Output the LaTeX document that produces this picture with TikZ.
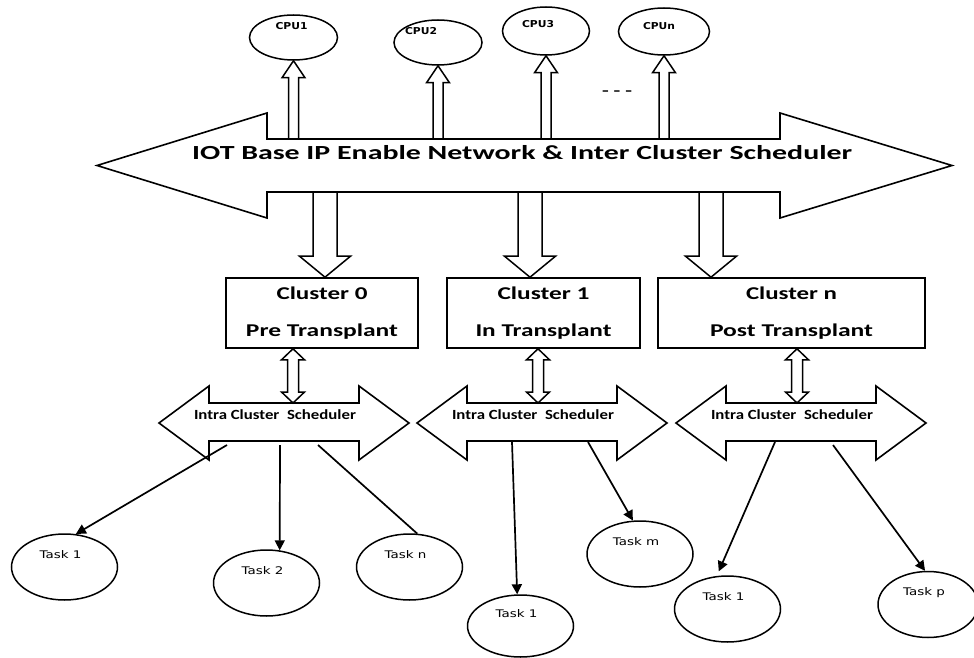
\documentclass[tikz,border=0pt]{standalone}
\usepackage{fontspec}
\usepackage{graphicx}
\usetikzlibrary{calc,shapes.geometric,arrows.meta}
\newfontfamily\carlito{Carlito}
\newfontfamily\dejavu{DejaVu Sans}

% stretch a text to a given width, keeping its height
\newcommand{\fitw}[2]{\resizebox{#1}{\height}{#2}}
% widen a text horizontally by a factor
\newcommand{\wide}[2]{\scalebox{#1}[1]{#2}}

% hollow block arrow from #1 to #2: shaft half-width #3, head half-width #4, head length #5
\newcommand{\blockarrow}[5]{%
  \coordinate (ba-h) at ($(#2)!#5!(#1)$);
  \draw[blockline] ($(#1)!#3!90:(#2)$) -- ($(ba-h)!#3!90:(#2)$) -- ($(ba-h)!#4!90:(#2)$) -- (#2)
    -- ($(ba-h)!#4!-90:(#2)$) -- ($(ba-h)!#3!-90:(#2)$) -- ($(#1)!#3!-90:(#2)$);}

% hollow two-headed block arrow between #1 and #2
\newcommand{\blockdarrow}[5]{%
  \coordinate (ba-a) at ($(#1)!#5!(#2)$);
  \coordinate (ba-b) at ($(#2)!#5!(#1)$);
  \draw[blockline] (#1) -- ($(ba-a)!#4!90:(#2)$) -- ($(ba-a)!#3!90:(#2)$) -- ($(ba-b)!#3!90:(#2)$)
    -- ($(ba-b)!#4!90:(#2)$) -- (#2) -- ($(ba-b)!#4!-90:(#2)$) -- ($(ba-b)!#3!-90:(#2)$)
    -- ($(ba-a)!#3!-90:(#2)$) -- ($(ba-a)!#4!-90:(#2)$) -- cycle;}

% intra cluster scheduler arrow: #1 name, #2 x of the left tip
\newcommand{\intraarrow}[2]{%
  \draw[outline] (#2,423) -- ++(50,-37) -- ++(0,17) -- ++(150,0) -- ++(0,-17) -- ++(50,37)
    -- ++(-50,37) -- ++(0,-19) -- ++(-150,0) -- ++(0,19) -- cycle;
  \coordinate (#1) at (#2+125,423);
  \node[intratext] (#1-text) at (#2+116,419.5) {\fitw{162pt}{Intra Cluster \ Scheduler}};}

\begin{document}
\begin{tikzpicture}[x=1pt,y=-1pt,
  outline/.style={draw=black, line width=1.6pt, line join=miter},
  blockline/.style={draw=black, line width=1.5pt, line join=miter},
  cpu/.style={ellipse, draw=black, line width=1.5pt, inner sep=0pt},
  cputext/.style={font=\dejavu\bfseries\fontsize{9.5}{11}\selectfont, inner sep=0pt},
  cbox/.style={rectangle, draw=black, line width=1.6pt, inner sep=0pt, align=center,
    font=\carlito\bfseries\fontsize{18}{37}\selectfont},
  intratext/.style={anchor=base, inner sep=0pt, font=\carlito\bfseries\fontsize{14}{16}\selectfont},
  task/.style={ellipse, draw=black, line width=1.5pt, minimum width=106pt, minimum height=66pt, inner sep=0pt},
  tasktext/.style={font=\dejavu\fontsize{10.5}{12}\selectfont, inner sep=0pt, xshift=-4pt, yshift=12pt},
  tline/.style={draw=black, line width=1.7pt},
  tarrow/.style={tline, -{Triangle[length=10pt,width=10pt]}}
]
\fill[white] (0,0) rectangle (974,658);
\useasboundingbox (0,0) rectangle (974,658);

% network backbone and inter cluster scheduler
\draw[outline] (97,165.5) -- (267,113) -- (267,139) -- (780,139) -- (780,113) -- (952,165.5)
  -- (780,218) -- (780,192) -- (267,192) -- (267,218) -- cycle;
\node[anchor=base west, inner sep=0pt, font=\carlito\bfseries\fontsize{20}{24}\selectfont] (net)
  at (192,159.3) {\fitw{660pt}{IOT Base IP Enable Network \& Inter Cluster Scheduler}};
\coordinate (nettop) at (0,139);
\coordinate (netbot) at (0,191);

% processors
\node[cpu, minimum width=88pt, minimum height=45pt,
  label={[cputext, xshift=-2pt, yshift=11pt]center:\fitw{32pt}{CPU1}}] (cpu1) at (293.5,37.5) {};
\node[cpu, minimum width=88pt, minimum height=45pt,
  label={[cputext, xshift=-17pt, yshift=11pt]center:\fitw{32pt}{CPU2}}] (cpu2) at (438,42.5) {};
\node[cpu, minimum width=87pt, minimum height=48pt,
  label={[cputext, xshift=-8pt, yshift=7pt]center:\fitw{32pt}{CPU3}}] (cpu3) at (546,31) {};
\node[cpu, minimum width=91pt, minimum height=47pt,
  label={[cputext, xshift=-5pt, yshift=5pt]center:\fitw{32pt}{CPUn}}] (cpun) at (664,31.5) {};
\node[inner sep=0pt, font=\carlito\bfseries\fontsize{14}{16}\selectfont] (more) at (617,93) {\fitw{30pt}{- - -}};

\foreach \c in {cpu1,cpu2,cpu3,cpun} {
  \coordinate (\c-base) at (\c.south |- nettop);
  \blockarrow{\c-base}{\c.south}{5pt}{11.5pt}{17pt}
}

% clusters
\node[cbox, minimum width=192pt, minimum height=70pt] (box0) at (322,313)
  {\fitw{91pt}{Cluster 0}\\\fitw{152pt}{Pre Transplant}};
\node[cbox, minimum width=193pt, minimum height=70pt] (box1) at (543.5,313)
  {\fitw{92pt}{Cluster 1}\\\fitw{136pt}{In Transplant}};
\node[cbox, minimum width=267pt, minimum height=70pt] (boxn) at (791.5,313)
  {\fitw{91pt}{Cluster n}\\\fitw{163pt}{Post Transplant}};

\coordinate (dn0) at (325,191);
\coordinate (dn1) at (530,191);
\coordinate (dnn) at (711,191);
\blockarrow{dn0}{dn0 |- box0.north}{12pt}{25.5pt}{21pt}
\blockarrow{dn1}{dn1 |- box1.north}{12pt}{25.5pt}{21pt}
\blockarrow{dnn}{dnn |- boxn.north}{12pt}{25.5pt}{21pt}

% intra cluster schedulers
\intraarrow{ics0}{159}
\intraarrow{ics1}{417}
\intraarrow{icsn}{676}

\coordinate (ud0) at (293,403);
\coordinate (ud1) at (538,403);
\coordinate (udn) at (797,403);
\blockdarrow{ud0 |- box0.south}{ud0}{5.5pt}{11.5pt}{11pt}
\blockdarrow{ud1 |- box1.south}{ud1}{5.5pt}{11.5pt}{11pt}
\blockdarrow{udn |- boxn.south}{udn}{5.5pt}{11.5pt}{11pt}

% tasks
\node[task, label={[tasktext]center:\wide{1.28}{Task 1}}] (t0a) at (64.5,567) {};
\node[task, label={[tasktext]center:\wide{1.28}{Task 2}}] (t0b) at (266.5,583) {};
\node[task, label={[tasktext]center:\wide{1.28}{Task n}}] (t0c) at (409.5,567) {};
\node[task, minimum height=62pt, label={[tasktext]center:\wide{1.28}{Task 1}}] (t1a) at (520.5,626) {};
\node[task, label={[tasktext]center:\wide{1.28}{Task m}}] (t1b) at (640,554) {};
\node[task, label={[tasktext]center:\wide{1.28}{Task 1}}] (tna) at (727.5,609) {};
\node[task, minimum width=100pt, label={[tasktext]center:\wide{1.28}{Task p}}] (tnb) at (928,604.5) {};

\coordinate (s0a) at (227,445);
\coordinate (s0b) at (280,445);
\coordinate (s0c) at (318,445);
\coordinate (s1a) at (512,442);
\coordinate (s1b) at (588,442);
\coordinate (sna) at (775,442);
\coordinate (snb) at (833,445);

\draw[tarrow] (s0a) -- (t0a.71);
\draw[tarrow] (s0b) -- (t0b.68);
\draw[tline] (s0c) -- (t0c.77);
\draw[tarrow] (s1a) -- (t1a.96);
\draw[tarrow] (s1b) -- (t1b.102);
\draw[tarrow, shorten >=5pt] (sna) -- (tna.108);
\draw[tarrow] (snb) -- (tnb.95);
\end{tikzpicture}
\end{document}
